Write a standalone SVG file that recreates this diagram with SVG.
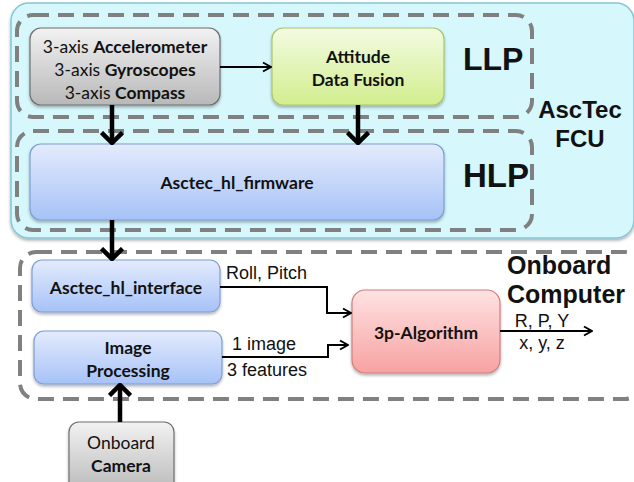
<svg xmlns="http://www.w3.org/2000/svg" width="634" height="482" viewBox="0 0 634 482">
<style>
.dash{fill:none;stroke:#808080;stroke-width:4;stroke-dasharray:16 9}
.box{stroke-width:1.2}
.lbl{font-family:Lato,"Open Sans",sans-serif;font-size:17.5px;fill:#111;text-anchor:middle}
.b{font-weight:bold}
.ar{font-family:"Liberation Sans",Arial,sans-serif;fill:#111}
.big{font-family:"Liberation Sans",Arial,sans-serif;font-weight:bold;fill:#111}
.thin{fill:none;stroke:#000;stroke-width:2}
.thick{fill:none;stroke:#000;stroke-width:4.5}
</style>
<defs>
<linearGradient id="gGray" x1="0" y1="0" x2="0" y2="1"><stop offset="0" stop-color="#f2f2f2"/><stop offset="1" stop-color="#b8b8b8"/></linearGradient>
<linearGradient id="gGreen" x1="0" y1="0" x2="0" y2="1"><stop offset="0" stop-color="#f3fbe2"/><stop offset="1" stop-color="#d2ee8e"/></linearGradient>
<linearGradient id="gBlue" x1="0" y1="0" x2="0" y2="1"><stop offset="0" stop-color="#e4ebfd"/><stop offset="1" stop-color="#a6c2f7"/></linearGradient>
<linearGradient id="gPink" x1="0" y1="0" x2="0" y2="1"><stop offset="0" stop-color="#ffe2e2"/><stop offset="1" stop-color="#f7a2a2"/></linearGradient>
<filter id="sh" x="-10%" y="-10%" width="120%" height="130%"><feDropShadow dx="0" dy="2" stdDeviation="1.8" flood-color="#000" flood-opacity="0.3"/></filter>
<marker id="aThin" markerUnits="userSpaceOnUse" viewBox="0 0 10 12" refX="9" refY="6" markerWidth="10" markerHeight="12" orient="auto"><path d="M1,1.5 L9,6 L1,10.5" fill="none" stroke="#000" stroke-width="2"/></marker>
<marker id="aThick" markerUnits="userSpaceOnUse" viewBox="0 0 14 24" refX="12" refY="12" markerWidth="14" markerHeight="24" orient="auto"><path d="M1.5,1.5 L12,12 L1.5,22.5" fill="none" stroke="#000" stroke-width="4.5"/></marker>
</defs>

<g id="fcu">
<rect x="11" y="3" width="623" height="235" rx="18" fill="#d6f8fc" stroke="#86c6d6" stroke-width="1.5" filter="url(#sh)"/>
<text class="big" x="580" y="118" font-size="24" text-anchor="middle">AscTec</text>
<text class="big" x="580" y="147" font-size="24" text-anchor="middle">FCU</text>
</g>
<g id="llp">
<rect class="dash" x="17" y="15" width="515" height="102" rx="16"/>
<text class="big" x="463" y="70" font-size="32">LLP</text>
</g>
<g id="hlp">
<rect class="dash" x="17" y="131" width="515" height="99" rx="16"/>
<text class="big" x="463" y="187" font-size="33">HLP</text>
</g>
<g id="onboard">
<rect class="dash" x="20" y="252" width="621" height="147" rx="16"/>
<text class="big" x="507" y="274" font-size="25">Onboard</text>
<text class="big" x="507" y="303" font-size="25">Computer</text>
</g>

<g id="sensors">
<rect class="box" x="30" y="28" width="190" height="77" rx="11" fill="url(#gGray)" stroke="#6e6e6e" filter="url(#sh)"/>
<text class="lbl" x="125" y="53">3-axis <tspan class="b">Accelerometer</tspan></text>
<text class="lbl" x="125" y="76">3-axis <tspan class="b">Gyroscopes</tspan></text>
<text class="lbl" x="125" y="99">3-axis <tspan class="b">Compass</tspan></text>
</g>
<g id="fusion">
<rect class="box" x="272" y="28" width="172" height="77" rx="11" fill="url(#gGreen)" stroke="#a9c56a" filter="url(#sh)"/>
<text class="lbl b" x="358" y="63">Attitude</text>
<text class="lbl b" x="358" y="86">Data Fusion</text>
</g>
<g id="firmware">
<rect class="box" x="30" y="144" width="414" height="76" rx="11" fill="url(#gBlue)" stroke="#7e9ed2" filter="url(#sh)"/>
<text class="lbl b" x="237" y="189">Asctec_hl_firmware</text>
</g>
<g id="interface">
<rect class="box" x="32" y="260" width="188" height="52" rx="10" fill="url(#gBlue)" stroke="#7e9ed2" filter="url(#sh)"/>
<text class="lbl b" x="126" y="294">Asctec_hl_interface</text>
</g>
<g id="imageproc">
<rect class="box" x="34" y="331" width="188" height="53" rx="10" fill="url(#gBlue)" stroke="#7e9ed2" filter="url(#sh)"/>
<text class="lbl b" x="128" y="354">Image</text>
<text class="lbl b" x="128" y="377">Processing</text>
</g>
<g id="camera">
<rect class="box" x="69" y="422" width="105" height="72" rx="10" fill="url(#gGray)" stroke="#6e6e6e" filter="url(#sh)"/>
<text class="lbl" x="121" y="449">Onboard</text>
<text class="lbl b" x="121" y="472">Camera</text>
</g>
<g id="algorithm">
<rect class="box" x="352" y="290" width="148" height="83" rx="13" fill="url(#gPink)" stroke="#d07e7e" filter="url(#sh)"/>
<text class="lbl b" x="426" y="339">3p-Algorithm</text>
</g>

<g id="connectors">
<line class="thin" x1="220" y1="67" x2="271" y2="67" marker-end="url(#aThin)"/>
<line class="thick" x1="112" y1="105" x2="112" y2="143" marker-end="url(#aThick)"/>
<line class="thick" x1="358" y1="105" x2="358" y2="143" marker-end="url(#aThick)"/>
<line class="thick" x1="112" y1="220" x2="112" y2="259" marker-end="url(#aThick)"/>
<line class="thick" x1="120" y1="422" x2="120" y2="385" marker-end="url(#aThick)"/>
<polyline class="thin" points="220,287 327,287 327,313 351,313" marker-end="url(#aThin)"/>
<polyline class="thin" points="222,357 328,357 328,345 348,345" marker-end="url(#aThin)"/>
<line class="thin" x1="500" y1="331" x2="592" y2="331" marker-end="url(#aThin)"/>
<text class="ar" x="226" y="279" font-size="18">Roll, Pitch</text>
<text class="ar" x="232" y="350" font-size="18">1 image</text>
<text class="ar" x="227" y="376" font-size="18">3 features</text>
<text class="ar" x="542" y="327" font-size="18" text-anchor="middle">R, P, Y</text>
<text class="ar" x="542" y="349" font-size="18" text-anchor="middle">x, y, z</text>
</g>
</svg>
